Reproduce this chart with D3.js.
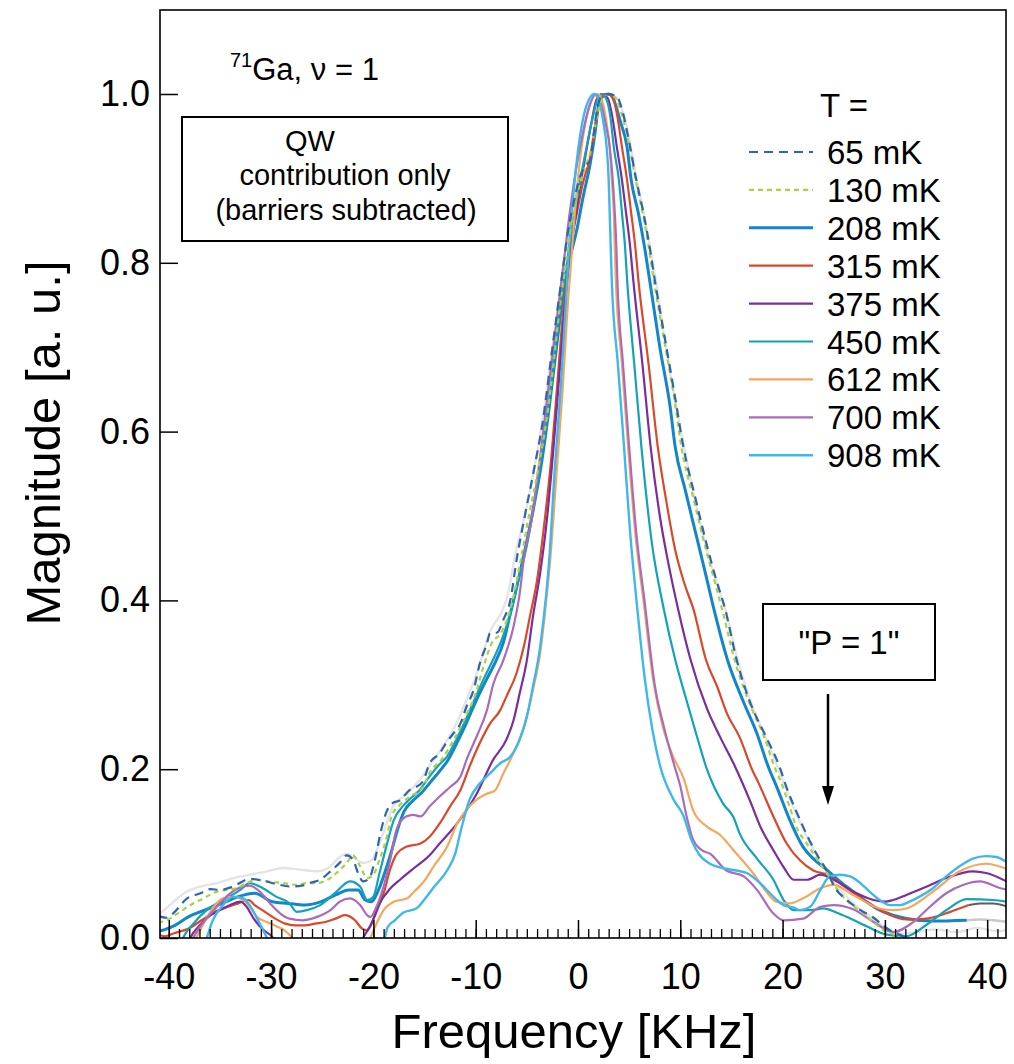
<!DOCTYPE html>
<html><head><meta charset="utf-8">
<script src="https://cdn.jsdelivr.net/npm/d3@7"></script>
<style>
body{margin:0;background:#fff}
svg{display:block}
text{font-family:"Liberation Sans",Arial,Helvetica,sans-serif;fill:#000}
</style></head>
<body><svg id="chart" width="1014" height="1064"></svg>
<script>
// ---------- data (frequency kHz, normalized magnitude) ----------
const seriesNames = ["65 mK","130 mK","208 mK","315 mK","375 mK","450 mK","612 mK","700 mK","908 mK"];
const yTickValues = [0,0.2,0.4,0.6,0.8,1.0];
const xMajorTicks = [-40,-30,-20,-10,0,10,20,30,40];

const greyRef = [[-41,0.027],[-39.9,0.039],[-38.5,0.053],[-36.9,0.061],[-35.3,0.065],[-33.7,0.071],[-32.1,0.075],[-30.4,0.079],[-28.8,0.083],[-27.2,0.081],[-25.5,0.079],[-24.2,0.085],[-23.3,0.096],[-22.6,0.100],[-22.0,0.096],[-21.0,0.089],[-20.3,0.091],[-19.4,0.112],[-18.6,0.140],[-18.0,0.158],[-17.0,0.168],[-16.0,0.180],[-15.0,0.195],[-14.2,0.210],[-13.3,0.225],[-12.5,0.240],[-11.6,0.262],[-10.8,0.285],[-10.0,0.310],[-9.2,0.340],[-8.7,0.360],[-8.2,0.372],[-7.5,0.385],[-6.8,0.410],[-6.2,0.45],[-5.2,0.50],[-4.3,0.555],[-3.4,0.62],[-2.6,0.69],[-2.0,0.745],[-1.5,0.79],[-0.6,0.86],[0.4,0.91],[1.2,0.93],[1.7,0.965],[2.3,0.995],[3.0,1.0],[3.8,0.995],[4.5,0.975],[5.2,0.935],[5.8,0.895],[6.5,0.855],[7.1,0.815],[7.6,0.78],[8.6,0.70],[9.6,0.63],[10.4,0.58],[11.6,0.51],[12.6,0.46],[13.6,0.42],[14.5,0.385],[15.6,0.33],[16.9,0.28],[18.4,0.236],[19.6,0.20],[20.4,0.175],[21.6,0.14],[23.0,0.105],[24.3,0.08],[25.6,0.058],[27.0,0.040],[28.5,0.026],[30.0,0.013],[31.5,0.005],[33,0.007],[35,0.010],[37,0.007],[39,0.012],[41,0.008],[42,0.010]];

const s65 = [[-41,0.026],[-40.2,0.024],[-39.6,0.029],[-38.2,0.047],[-36.9,0.053],[-35.9,0.058],[-35.0,0.057],[-33.7,0.061],[-32.1,0.070],[-30.8,0.068],[-29.5,0.064],[-28.2,0.061],[-27.0,0.062],[-26.0,0.066],[-25.2,0.069],[-24.2,0.079],[-23.3,0.089],[-22.6,0.098],[-22.0,0.093],[-21.5,0.077],[-21.0,0.067],[-20.4,0.071],[-19.8,0.095],[-19.3,0.125],[-18.7,0.150],[-18.1,0.160],[-17.4,0.163],[-16.5,0.175],[-15.8,0.179],[-15.1,0.187],[-14.5,0.207],[-13.5,0.219],[-12.9,0.231],[-12.2,0.242],[-11.5,0.254],[-10.9,0.274],[-10.2,0.294],[-9.6,0.325],[-8.9,0.349],[-8.6,0.361],[-7.9,0.362],[-7.3,0.377],[-6.6,0.401],[-6.0,0.448],[-5.2,0.50],[-4.3,0.555],[-3.4,0.615],[-2.6,0.69],[-2.0,0.745],[-1.5,0.79],[-1.0,0.835],[-0.3,0.878],[0.2,0.902],[0.85,0.916],[1.2,0.922],[1.5,0.949],[1.8,0.977],[2.3,0.997],[3.0,1.0],[3.8,0.997],[4.4,0.977],[5.1,0.937],[5.7,0.898],[6.4,0.859],[7.0,0.819],[7.5,0.78],[8.5,0.71],[9.5,0.64],[10.3,0.582],[11.5,0.52],[12.5,0.47],[13.5,0.425],[14.4,0.389],[15.5,0.33],[16.8,0.28],[18.4,0.238],[19.7,0.203],[20.4,0.178],[21.7,0.140],[23.3,0.100],[24.4,0.078],[25.0,0.062],[26.3,0.045],[27.6,0.033],[28.9,0.024],[29.8,0.015],[30.8,0.007],[31.8,0.002],[32.8,-0.01]];

const s130 = [[-41,0.018],[-39.9,0.023],[-38.9,0.031],[-37.9,0.039],[-36.6,0.047],[-35.3,0.055],[-34.3,0.057],[-33.4,0.059],[-32.4,0.065],[-31.4,0.069],[-30.4,0.067],[-28.8,0.065],[-27.5,0.063],[-26.5,0.065],[-25.5,0.065],[-24.5,0.069],[-23.6,0.077],[-22.6,0.089],[-22.0,0.098],[-21.3,0.085],[-20.6,0.071],[-20.0,0.075],[-19.4,0.093],[-18.8,0.115],[-18.2,0.145],[-17.4,0.158],[-16.4,0.168],[-15.2,0.178],[-14.4,0.198],[-13.3,0.212],[-12.1,0.236],[-11.0,0.262],[-10.0,0.290],[-9.2,0.323],[-8.4,0.350],[-7.6,0.360],[-7.0,0.375],[-6.3,0.405],[-5.6,0.448],[-4.8,0.50],[-3.9,0.555],[-3.0,0.62],[-2.3,0.69],[-1.8,0.745],[-1.3,0.79],[-0.8,0.835],[-0.1,0.88],[0.6,0.91],[1.3,0.935],[1.8,0.97],[2.4,0.995],[3.0,1.0],[3.7,0.995],[4.3,0.975],[5.0,0.94],[5.6,0.90],[6.3,0.86],[6.9,0.82],[7.4,0.78],[8.4,0.71],[9.4,0.64],[10.1,0.582],[11.3,0.52],[12.3,0.47],[13.3,0.425],[14.1,0.389],[15.3,0.33],[16.7,0.28],[18.2,0.238],[19.2,0.203],[20.0,0.180],[20.7,0.155],[21.4,0.130],[22.2,0.115],[23.0,0.100],[24.3,0.077],[25.9,0.049],[27.9,0.029],[29.8,0.010],[31.5,0.0],[32.5,-0.01]];

const s208 = [[-41,0.008],[-40.4,0.010],[-39.4,0.015],[-38.1,0.025],[-36.5,0.033],[-34.8,0.041],[-33.2,0.049],[-31.6,0.053],[-29.9,0.043],[-28.3,0.041],[-26.7,0.039],[-25.1,0.043],[-23.7,0.051],[-22.4,0.057],[-21.5,0.057],[-20.8,0.045],[-20.2,0.043],[-19.5,0.057],[-18.9,0.077],[-18.3,0.10],[-17.6,0.13],[-17.0,0.15],[-16.2,0.162],[-15.3,0.172],[-14.4,0.185],[-13.5,0.198],[-12.7,0.211],[-11.8,0.232],[-10.9,0.255],[-10.0,0.28],[-9.0,0.305],[-8.0,0.329],[-7.3,0.35],[-6.7,0.38],[-6.0,0.415],[-5.4,0.448],[-4.5,0.50],[-3.6,0.56],[-2.8,0.63],[-2.1,0.70],[-1.6,0.75],[-1.2,0.785],[-0.7,0.81],[-0.1,0.84],[0.5,0.878],[1.2,0.918],[1.7,0.957],[2.0,0.985],[2.5,0.998],[3.0,1.0],[3.5,0.993],[4.1,0.969],[4.8,0.937],[5.2,0.898],[5.9,0.859],[6.5,0.819],[7.0,0.78],[8.0,0.70],[9.0,0.63],[9.5,0.582],[10.5,0.53],[11.5,0.48],[12.5,0.43],[13.3,0.389],[14.6,0.33],[16.1,0.282],[17.5,0.242],[18.6,0.203],[19.4,0.180],[20.7,0.140],[22.0,0.108],[23.0,0.094],[24.3,0.081],[25.6,0.067],[26.9,0.055],[28.2,0.043],[29.5,0.033],[30.8,0.027],[32.1,0.023],[34.7,0.020],[38.0,0.021]];
const s208tail = [[38.0,0.021],[39.3,0.022],[40.6,0.021],[42,0.019]];

const s315 = [[-41,0.004],[-40.4,0.002],[-39.4,0.006],[-38.1,0.011],[-36.8,0.021],[-35.5,0.031],[-34.2,0.037],[-33.2,0.041],[-32.2,0.045],[-31.6,0.039],[-30.6,0.031],[-29.6,0.023],[-28.6,0.017],[-27.7,0.015],[-26.7,0.015],[-25.7,0.017],[-24.7,0.019],[-23.7,0.023],[-22.8,0.027],[-21.8,0.021],[-21.1,0.011],[-20.7,0.009],[-20.2,0.017],[-19.5,0.037],[-18.9,0.057],[-18.4,0.080],[-17.7,0.100],[-16.8,0.108],[-15.4,0.112],[-14.5,0.120],[-13.5,0.136],[-12.5,0.156],[-11.5,0.175],[-10.6,0.203],[-9.6,0.231],[-8.6,0.254],[-7.6,0.270],[-7.0,0.286],[-6.0,0.314],[-5.3,0.345],[-4.7,0.381],[-4.0,0.424],[-3.3,0.49],[-2.6,0.57],[-2.0,0.66],[-1.4,0.75],[-0.8,0.815],[-0.1,0.859],[0.4,0.89],[0.85,0.91],[1.17,0.922],[1.4,0.94],[1.7,0.965],[2.2,0.992],[2.6,1.0],[3.3,0.998],[3.8,0.977],[4.3,0.937],[4.8,0.898],[5.2,0.859],[5.6,0.819],[5.9,0.78],[6.9,0.68],[7.8,0.582],[8.6,0.52],[9.5,0.46],[10.4,0.42],[11.3,0.389],[12.5,0.33],[13.6,0.298],[14.6,0.265],[15.8,0.238],[17.0,0.200],[17.6,0.185],[19.1,0.144],[20.4,0.112],[21.7,0.092],[23.0,0.080],[24.4,0.075],[26.3,0.059],[28.2,0.043],[30.2,0.029],[32.1,0.022],[34.1,0.023],[36.4,0.031],[38.2,0.039]];
const s315tail = [[38.2,0.039],[39.3,0.041],[40.6,0.041],[42,0.037]];

const s375 = [[-41,-0.03],[-38.5,-0.02],[-37.9,0.0],[-36.9,0.016],[-35.9,0.027],[-35.0,0.033],[-34.0,0.039],[-33.0,0.043],[-32.4,0.037],[-31.7,0.023],[-30.8,0.010],[-29.8,0.0],[-29.0,-0.02],[-21.6,-0.02],[-21.0,0.0],[-20.3,0.014],[-19.4,0.041],[-18.4,0.058],[-17.4,0.069],[-15.8,0.085],[-14.5,0.098],[-13.8,0.108],[-11.8,0.136],[-9.9,0.171],[-8.3,0.211],[-7.0,0.235],[-6.3,0.258],[-5.7,0.290],[-5.0,0.329],[-4.4,0.381],[-3.7,0.432],[-3.0,0.50],[-2.4,0.58],[-1.8,0.67],[-1.2,0.76],[-0.6,0.825],[0.0,0.875],[0.7,0.925],[1.3,0.965],[1.8,0.993],[2.3,1.0],[2.9,0.995],[3.4,0.97],[3.8,0.937],[4.3,0.898],[4.7,0.859],[5.1,0.819],[5.4,0.78],[6.3,0.68],[7.1,0.582],[8.0,0.50],[8.9,0.44],[9.8,0.389],[11.0,0.33],[12.6,0.272],[13.9,0.238],[15.2,0.207],[16.8,0.163],[17.9,0.130],[19.1,0.104],[20.1,0.084],[21.1,0.069],[22.4,0.069],[23.7,0.075],[25.0,0.069],[26.9,0.055],[28.9,0.045],[30.0,0.043],[30.8,0.045],[32.1,0.051],[34.1,0.061],[36.0,0.071],[38.6,0.079],[39.9,0.077],[41.9,0.067]];

const s450 = [[-41,-0.03],[-39.2,-0.02],[-38.6,0.0],[-37.6,0.017],[-36.3,0.033],[-34.7,0.045],[-33.0,0.057],[-32.1,0.065],[-30.8,0.059],[-29.5,0.049],[-28.2,0.041],[-27.5,0.031],[-26.5,0.033],[-25.2,0.039],[-23.6,0.055],[-22.3,0.067],[-21.3,0.061],[-20.6,0.045],[-20.0,0.049],[-19.4,0.077],[-18.7,0.11],[-18.0,0.14],[-17.2,0.155],[-16.4,0.165],[-15.5,0.175],[-14.6,0.19],[-13.6,0.205],[-12.8,0.215],[-11.9,0.235],[-11.0,0.258],[-10.1,0.283],[-9.1,0.31],[-8.1,0.335],[-7.4,0.355],[-6.6,0.385],[-5.9,0.42],[-5.0,0.465],[-4.2,0.52],[-3.4,0.59],[-2.6,0.66],[-1.9,0.74],[-1.2,0.79],[-0.6,0.84],[0.1,0.89],[0.8,0.935],[1.4,0.97],[1.9,0.993],[2.3,1.0],[2.8,0.993],[3.2,0.97],[3.5,0.937],[4.0,0.898],[4.3,0.859],[4.6,0.819],[4.8,0.78],[5.5,0.68],[6.2,0.582],[7.2,0.47],[8.4,0.389],[9.5,0.33],[10.6,0.282],[11.6,0.24],[12.6,0.200],[14.2,0.159],[15.2,0.143],[15.8,0.124],[17.5,0.094],[19.1,0.069],[20.1,0.045],[21.1,0.033],[22.7,0.033],[24.0,0.035],[25.3,0.030],[26.3,0.025],[28.2,0.014],[30.2,0.004],[32.1,0.002],[34.1,0.016],[36.0,0.033],[38.0,0.046],[40.6,0.045],[41.9,0.043]];

const s612 = [[-41,-0.03],[-37.9,-0.02],[-37.3,0.0],[-36.6,0.017],[-35.6,0.037],[-34.7,0.047],[-33.7,0.049],[-32.7,0.045],[-32.1,0.037],[-31.4,0.025],[-30.4,0.019],[-29.5,0.014],[-28.8,0.010],[-27.8,-0.002],[-27,-0.02],[-21,-0.02],[-20.3,0.0],[-19.7,0.017],[-19.0,0.033],[-18.0,0.043],[-16.7,0.047],[-16.0,0.055],[-15.0,0.068],[-14.1,0.085],[-12.8,0.108],[-11.8,0.136],[-10.9,0.152],[-9.9,0.164],[-8.9,0.171],[-8.1,0.175],[-7.3,0.195],[-6.3,0.219],[-5.3,0.250],[-4.4,0.294],[-3.7,0.337],[-3.1,0.40],[-2.7,0.45],[-2.1,0.55],[-1.5,0.65],[-1.0,0.75],[-0.5,0.83],[0.0,0.9],[0.5,0.95],[1.1,0.985],[1.9,1.0],[2.4,0.99],[2.8,0.965],[3.1,0.937],[3.3,0.898],[3.5,0.859],[3.6,0.819],[3.7,0.78],[4.3,0.68],[4.9,0.582],[5.6,0.48],[6.4,0.40],[7.4,0.302],[8.3,0.250],[9.3,0.215],[10.3,0.190],[11.3,0.150],[12.6,0.132],[13.9,0.122],[15.2,0.104],[17.1,0.077],[18.4,0.055],[19.4,0.043],[20.7,0.041],[22.0,0.047],[23.7,0.059],[25.0,0.063],[26.9,0.051],[29.5,0.035],[30.8,0.033],[32.1,0.035],[34.7,0.055],[37.3,0.079],[39.9,0.088],[41.9,0.082]];

const s700 = [[-41,-0.03],[-38.2,-0.02],[-37.6,0.0],[-36.9,0.014],[-35.9,0.029],[-35.0,0.041],[-34.0,0.053],[-33.0,0.060],[-32.1,0.062],[-31.1,0.055],[-30.1,0.041],[-29.1,0.029],[-28.2,0.023],[-26.9,0.021],[-25.5,0.025],[-24.2,0.033],[-23.3,0.043],[-22.3,0.047],[-21.3,0.039],[-20.6,0.027],[-20.3,0.025],[-19.7,0.037],[-19.0,0.061],[-18.4,0.090],[-17.7,0.130],[-16.8,0.144],[-16.1,0.146],[-15.4,0.144],[-14.5,0.156],[-13.5,0.168],[-12.5,0.179],[-11.5,0.191],[-10.9,0.211],[-9.9,0.239],[-8.9,0.270],[-8.3,0.300],[-7.3,0.329],[-6.3,0.369],[-5.7,0.408],[-5.3,0.448],[-4.5,0.50],[-3.6,0.58],[-2.8,0.66],[-2.1,0.73],[-1.4,0.80],[-0.8,0.86],[-0.2,0.91],[0.5,0.955],[1.1,0.985],[1.7,1.0],[2.2,0.99],[2.7,0.965],[3.1,0.937],[3.4,0.898],[3.6,0.859],[3.75,0.819],[3.85,0.78],[4.4,0.68],[5.0,0.582],[5.7,0.48],[6.5,0.40],[7.5,0.30],[8.4,0.25],[9.4,0.205],[10.0,0.18],[10.6,0.145],[11.2,0.118],[12.1,0.104],[12.9,0.100],[14.5,0.080],[16.2,0.073],[17.5,0.057],[19.1,0.029],[20.1,0.021],[22.0,0.023],[23.7,0.037],[25.0,0.039],[26.9,0.034],[28.9,0.019],[30.8,0.007],[32.8,0.019],[34.4,0.037],[36.0,0.053],[37.7,0.063],[39.3,0.067],[41.3,0.059],[42.1,0.057]];

const s908 = [[-41,-0.03],[-37,-0.02],[-36.3,0.0],[-35.7,0.021],[-34.7,0.039],[-33.7,0.049],[-32.7,0.047],[-32.1,0.039],[-31.1,0.017],[-30.4,0.0],[-29.6,-0.02],[-19.6,-0.02],[-18.9,0.0],[-18.6,0.013],[-17.9,0.021],[-17.1,0.030],[-15.8,0.035],[-14.8,0.049],[-14.1,0.060],[-12.8,0.080],[-12.0,0.10],[-11.5,0.125],[-10.6,0.164],[-9.6,0.183],[-8.6,0.195],[-7.6,0.207],[-6.6,0.215],[-5.7,0.235],[-5.0,0.262],[-4.4,0.298],[-3.7,0.345],[-3.1,0.408],[-2.8,0.45],[-2.3,0.55],[-1.7,0.65],[-1.2,0.75],[-0.8,0.83],[-0.3,0.9],[0.2,0.95],[0.8,0.985],[1.6,1.0],[2.1,0.99],[2.5,0.965],[2.8,0.937],[3.0,0.898],[3.1,0.859],[3.2,0.819],[3.3,0.78],[3.9,0.68],[4.5,0.582],[5.1,0.48],[5.8,0.39],[6.5,0.31],[7.3,0.245],[8.0,0.205],[9.3,0.165],[10.3,0.145],[11.1,0.116],[11.9,0.098],[12.9,0.088],[14.5,0.082],[15.5,0.080],[16.5,0.077],[17.8,0.065],[19.1,0.049],[20.1,0.039],[21.1,0.036],[21.7,0.033],[22.7,0.037],[23.7,0.057],[24.6,0.073],[25.6,0.075],[26.6,0.073],[27.6,0.065],[28.5,0.055],[29.5,0.045],[30.5,0.039],[31.5,0.039],[32.4,0.043],[33.4,0.049],[34.7,0.059],[36.0,0.073],[37.3,0.085],[38.6,0.094],[39.9,0.097],[40.9,0.096],[41.9,0.090]];

const seriesData = [s65,s130,s208,s315,s375,s450,s612,s700,s908];
const seriesColors = ["#2f64b3","#a8d340","#1385ca","#d9482b","#7b2d9b","#12a2ba","#f6a65c","#aa6cba","#3eb8ec"];
const seriesWidths = [2.2,2.2,3,2.2,2.2,2.2,2.2,2.2,2.4];
const seriesDash = ["9,6","5,4",null,null,null,null,null,null,null];

// ---------- layout ----------
const svg = d3.select("#chart");
const L=160, R=1006, T=10, B=938;
const x = d3.scaleLinear().domain([-40.86,41.84]).range([L,R]);
const y = d3.scaleLinear().domain([0,1.1]).range([B,B-844*1.1]);

svg.append("defs").append("clipPath").attr("id","clip")
  .append("rect").attr("x",L).attr("y",T).attr("width",R-L).attr("height",B-T);

const line = d3.line().x(d=>x(d[0])).y(d=>y(d[1])).curve(d3.curveMonotoneX);
const g = svg.append("g").attr("clip-path","url(#clip)");

function draw(data,color,w,dash){
  g.append("path").datum(data).attr("d",line).attr("fill","none")
   .attr("stroke",color).attr("stroke-width",w).attr("stroke-linejoin","round")
   .attr("stroke-dasharray",dash);
}
draw(greyRef,"#e4e4e4",2.4,null);
draw(s208tail,"#c9c9c9",2.4,null);
draw(s315tail,"#5c5c5c",2,null);
const order=[2,3,4,5,6,7,8,1,0];
order.forEach(i=>draw(seriesData[i],seriesColors[i],seriesWidths[i],seriesDash[i]));

// ---------- axes ----------
const minor = d3.range(-40,42,1);
svg.append("g").attr("transform",`translate(0,${B})`)
  .call(d3.axisBottom(x).tickValues(minor).tickSizeInner(-9).tickSizeOuter(0).tickFormat(""))
  .call(s=>s.select(".domain").remove())
  .call(s=>s.selectAll("line").attr("stroke","#000").attr("stroke-width",1.3));
const xa = svg.append("g").attr("transform",`translate(0,${B})`)
  .call(d3.axisBottom(x).tickValues(xMajorTicks).tickSizeInner(-18).tickSizeOuter(0).tickPadding(25).tickFormat(d=>String(d)))
  .call(s=>s.select(".domain").remove());
xa.selectAll("line").attr("stroke","#000").attr("stroke-width",1.5);
xa.selectAll("text").attr("font-size",36).attr("font-family","Liberation Sans, Arial, sans-serif").attr("fill","#000");

const ya = svg.append("g").attr("transform",`translate(${L},0)`)
  .call(d3.axisLeft(y).tickValues(yTickValues).tickSizeInner(-18).tickSizeOuter(0).tickPadding(10).tickFormat(d3.format(".1f")))
  .call(s=>s.select(".domain").remove());
ya.selectAll("line").attr("stroke","#000").attr("stroke-width",1.5);
ya.selectAll("text").attr("font-size",36).attr("font-family","Liberation Sans, Arial, sans-serif").attr("fill","#000");

svg.append("rect").attr("x",L).attr("y",T).attr("width",R-L).attr("height",B-T)
  .attr("fill","none").attr("stroke","#000").attr("stroke-width",1.6);

// titles
svg.append("text").attr("transform","translate(60,443) rotate(-90)").attr("text-anchor","middle")
  .attr("font-size",49).text("Magnitude [a. u.]");
svg.append("text").attr("x",574).attr("y",1048).attr("text-anchor","middle")
  .attr("font-size",49).text("Frequency [KHz]");

// annotation top-left
const ann = svg.append("text").attr("x",230).attr("y",80).attr("font-size",31);
ann.append("tspan").attr("font-size",20).attr("dy",-13).text("71");
ann.append("tspan").attr("dy",13).text("Ga, \u03BD = 1");

svg.append("rect").attr("x",182).attr("y",117).attr("width",326).attr("height",124)
  .attr("fill","#fff").attr("stroke","#000").attr("stroke-width",2);
svg.append("text").attr("x",310).attr("y",151).attr("text-anchor","middle").attr("font-size",29).text("QW");
svg.append("text").attr("x",345).attr("y",185).attr("text-anchor","middle").attr("font-size",29).text("contribution only");
svg.append("text").attr("x",346).attr("y",220).attr("text-anchor","middle").attr("font-size",29).text("(barriers subtracted)");

// P = 1 box + arrow
svg.append("rect").attr("x",763).attr("y",604).attr("width",172).attr("height",76)
  .attr("fill","#fff").attr("stroke","#000").attr("stroke-width",2);
svg.append("text").attr("x",849).attr("y",654).attr("text-anchor","middle").attr("font-size",33).text("\"P = 1\"");
svg.append("line").attr("x1",828).attr("x2",828).attr("y1",694).attr("y2",790).attr("stroke","#000").attr("stroke-width",2.5);
svg.append("path").attr("d","M822,786 L834,786 L828,805 Z").attr("fill","#000");

// legend
svg.append("text").attr("x",820).attr("y",117).attr("font-size",33).text("T =");
seriesNames.forEach((n,i)=>{
  const cy = 152 + i*37.9;
  svg.append("line").attr("x1",749).attr("x2",813).attr("y1",cy).attr("y2",cy)
    .attr("stroke",seriesColors[i]).attr("stroke-width",seriesWidths[i]).attr("stroke-dasharray",seriesDash[i]);
  svg.append("text").attr("x",827).attr("y",cy+12).attr("font-size",33).text(n);
});
</script></body></html>
